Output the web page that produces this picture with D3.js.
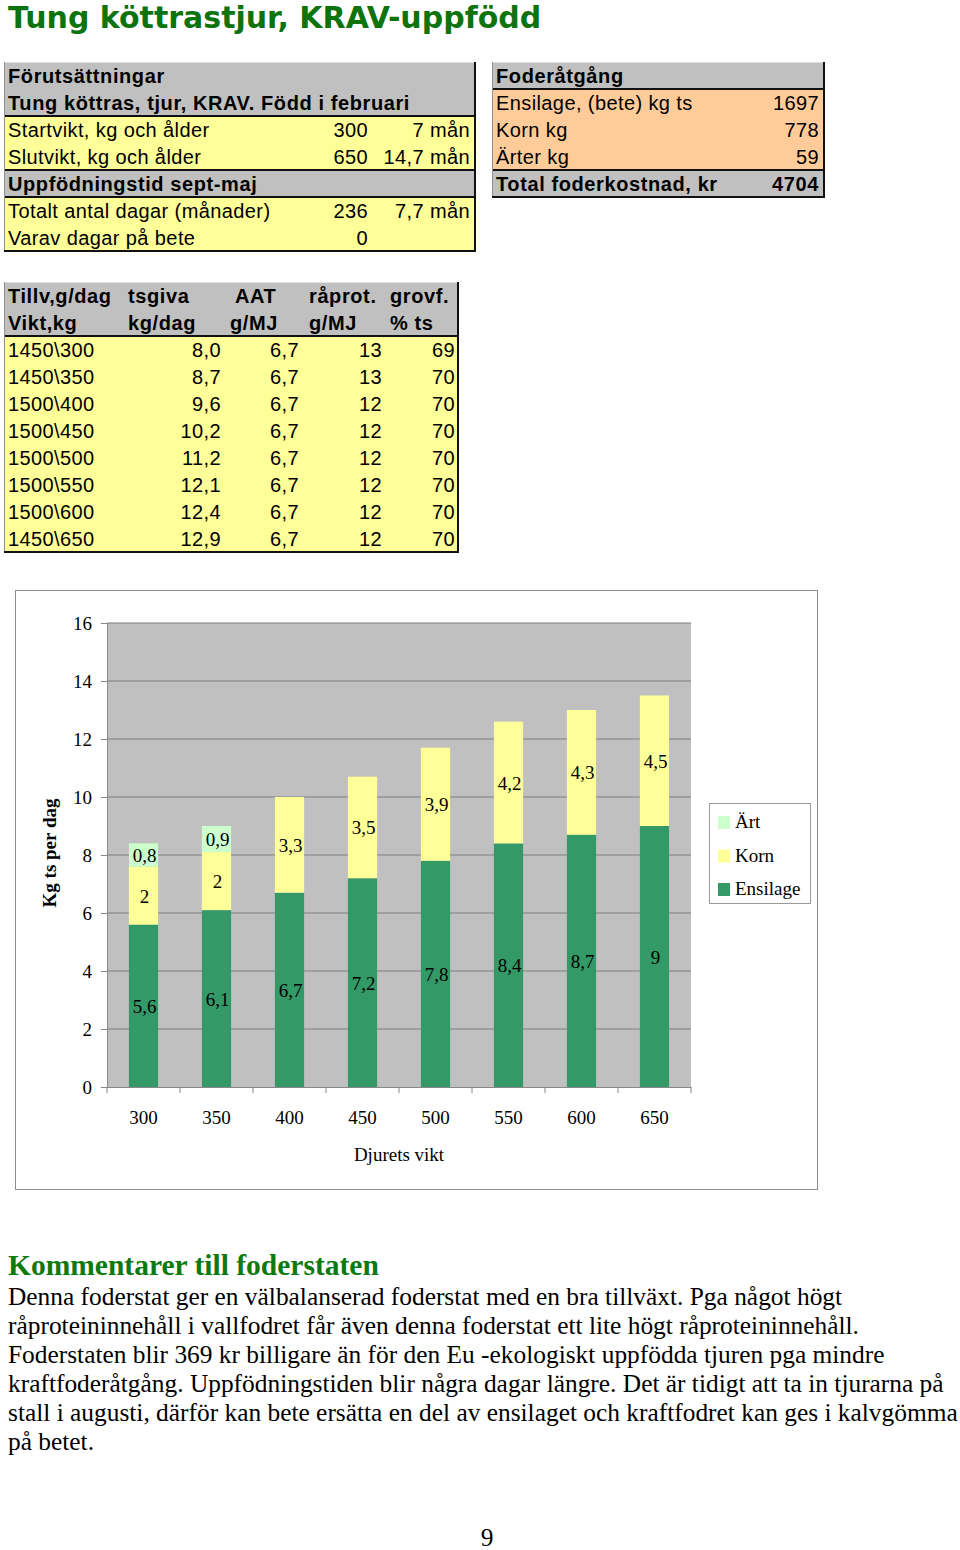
<!DOCTYPE html>
<html>
<head>
<meta charset="utf-8">
<script src="https://cdn.jsdelivr.net/npm/d3@7"></script>
<style>
  body { margin: 0; background: #fff; }
  svg { display: block; }
  .tbl { font-family: "Liberation Sans", Arial, sans-serif; font-size: 20px; fill: #000; letter-spacing: 0.4px; }
  .tbl .b { font-weight: bold; letter-spacing: 0.6px; }
  .chart text { font-family: "Liberation Serif", "Times New Roman", serif; font-size: 19px; fill: #000; }
  .body { font-family: "Liberation Serif", "Times New Roman", serif; font-size: 25.4px; fill: #000; }
</style>
</head>
<body>
<script>
// ---- data ----
var weights = ["300", "350", "400", "450", "500", "550", "600", "650"];
var ensilage = [5.6, 6.1, 6.7, 7.2, 7.8, 8.4, 8.7, 9];
var korn = [2, 2, 3.3, 3.5, 3.9, 4.2, 4.3, 4.5];
var art = [0.8, 0.9, 0, 0, 0, 0, 0, 0];
var seriesNames = ["Ensilage", "Korn", "Ärt"];
var yTicks = [0, 2, 4, 6, 8, 10, 12, 14, 16];

var forutRows = [
  ["Förutsättningar", "", ""],
  ["Tung köttras, tjur, KRAV. Född i februari", "", ""],
  ["Startvikt, kg och ålder", "300", "7 mån"],
  ["Slutvikt, kg och ålder", "650", "14,7 mån"],
  ["Uppfödningstid sept-maj", "", ""],
  ["Totalt antal dagar (månader)", "236", "7,7 mån"],
  ["Varav dagar på bete", "0", ""]
];
var foderRows = [
  ["Foderåtgång", ""],
  ["Ensilage, (bete) kg ts", "1697"],
  ["Korn kg", "778"],
  ["Ärter kg", "59"],
  ["Total foderkostnad, kr", "4704"]
];
var staterHead = [
  ["Tillv,g/dag", "tsgiva", "AAT", "råprot.", "grovf."],
  ["Vikt,kg", "kg/dag", "g/MJ", "g/MJ", "% ts"]
];
var staterRows = [
  ["1450\\300", "8,0", "6,7", "13", "69"],
  ["1450\\350", "8,7", "6,7", "13", "70"],
  ["1500\\400", "9,6", "6,7", "12", "70"],
  ["1500\\450", "10,2", "6,7", "12", "70"],
  ["1500\\500", "11,2", "6,7", "12", "70"],
  ["1500\\550", "12,1", "6,7", "12", "70"],
  ["1500\\600", "12,4", "6,7", "12", "70"],
  ["1450\\650", "12,9", "6,7", "12", "70"]
];
var commentLines = [
  "Denna foderstat ger en välbalanserad foderstat med en bra tillväxt. Pga något högt",
  "råproteininnehåll i vallfodret får även denna foderstat ett lite högt råproteininnehåll.",
  "Foderstaten blir 369 kr billigare än för den Eu -ekologiskt uppfödda tjuren pga mindre",
  "kraftfoderåtgång. Uppfödningstiden blir några dagar längre. Det är tidigt att ta in tjurarna på",
  "stall i augusti, därför kan bete ersätta en del av ensilaget och kraftfodret kan ges i kalvgömma",
  "på betet."
];

var colors = { "Ensilage": "#339966", "Korn": "#ffff99", "Ärt": "#ccffcc" };
var GRAY = "#c0c0c0", YELLOW = "#ffff99", ORANGE = "#ffcc99";

var svg = d3.select("body").append("svg")
  .attr("width", 960).attr("height", 1550);

// ---- title ----
svg.append("text")
  .attr("x", 8).attr("y", 28)
  .style("font-family", "'DejaVu Sans', Verdana, sans-serif")
  .style("font-weight", "bold").style("font-size", "30px")
  .style("fill", "#0d730d")
  .text("Tung köttrastjur, KRAV-uppfödd");

// ---- tables ----
var ROW = 27;

function drawTable(x, y, w, fills, lines) {
  var g = svg.append("g").attr("class", "tbl").attr("transform", "translate(" + x + "," + y + ")");
  g.selectAll("rect.row").data(fills).enter().append("rect")
    .attr("class", "row")
    .attr("x", 0).attr("y", function (d, i) { return i * ROW; })
    .attr("width", w).attr("height", ROW)
    .attr("fill", function (d) { return d; });
  // separator lines
  lines.forEach(function (r) {
    g.append("line").attr("x1", 0).attr("x2", w)
      .attr("y1", r * ROW).attr("y2", r * ROW)
      .attr("stroke", "#111").attr("stroke-width", 2);
  });
  // frame: light top/left, dark right/bottom
  var h = fills.length * ROW;
  g.append("line").attr("x1", 0).attr("x2", w).attr("y1", 0.5).attr("y2", 0.5).attr("stroke", "#e0e0e0");
  g.append("line").attr("x1", 0.5).attr("x2", 0.5).attr("y1", 0).attr("y2", h).attr("stroke", "#909090");
  g.append("line").attr("x1", w).attr("x2", w).attr("y1", 0).attr("y2", h + 1).attr("stroke", "#111").attr("stroke-width", 2);
  g.append("line").attr("x1", 0).attr("x2", w + 1).attr("y1", h).attr("y2", h).attr("stroke", "#111").attr("stroke-width", 2);
  return g;
}

function cell(g, row, x, txt, anchor, bold) {
  g.append("text")
    .attr("class", bold ? "b" : null)
    .attr("x", x).attr("y", row * ROW + 21)
    .attr("text-anchor", anchor || "start")
    .text(txt);
}

// Förutsättningar
var t1 = drawTable(4, 62, 471,
  [GRAY, GRAY, YELLOW, YELLOW, GRAY, YELLOW, YELLOW], [2, 4, 5]);
forutRows.forEach(function (r, i) {
  var bold = (i === 0 || i === 1 || i === 4);
  cell(t1, i, 4, r[0], "start", bold);
  if (r[1]) cell(t1, i, 364, r[1], "end");
  if (r[2]) cell(t1, i, 466, r[2], "end");
});

// Foderåtgång
var t2 = drawTable(492, 62, 332, [GRAY, ORANGE, ORANGE, ORANGE, GRAY], [1, 4]);
foderRows.forEach(function (r, i) {
  var bold = (i === 0 || i === 4);
  cell(t2, i, 4, r[0], "start", bold);
  if (r[1]) cell(t2, i, 327, r[1], "end", bold);
});

// Foderstat table
var fills3 = [GRAY, GRAY].concat(staterRows.map(function () { return YELLOW; }));
var t3 = drawTable(4, 282, 454, fills3, [2]);
var headX = [4, 124, 226, 305, 386];
staterHead.forEach(function (r, i) {
  r.forEach(function (txt, j) {
    var xx = (i === 0 && j === 2) ? 231 : headX[j];
    cell(t3, i, xx, txt, "start", true);
  });
});
var dataX = [4, 217, 295, 378, 451];
staterRows.forEach(function (r, i) {
  r.forEach(function (txt, j) {
    cell(t3, i + 2, dataX[j], txt, j === 0 ? "start" : "end");
  });
});

// ---- chart ----
var chart = svg.append("g").attr("class", "chart");
chart.append("rect")
  .attr("x", 15.5).attr("y", 590.5).attr("width", 802).attr("height", 599)
  .attr("fill", "#fff").attr("stroke", "#8c8c8c");

var plot = { left: 107, right: 691, top: 623, bottom: 1087 };

var x = d3.scaleBand().domain(weights)
  .range([plot.left, plot.right]).paddingInner(0.6).paddingOuter(0.3);
var y = d3.scaleLinear().domain([0, 16]).range([plot.bottom, plot.top]);

chart.append("rect")
  .attr("x", plot.left).attr("y", plot.top)
  .attr("width", plot.right - plot.left).attr("height", plot.bottom - plot.top)
  .attr("fill", "#c0c0c0");

// gridlines
chart.append("g").selectAll("line").data(yTicks.slice(1)).enter().append("line")
  .attr("x1", plot.left).attr("x2", plot.right)
  .attr("y1", function (d) { return y(d); }).attr("y2", function (d) { return y(d); })
  .attr("stroke", "#7f7f7f").attr("stroke-width", 1);

var tableData = weights.map(function (w, i) {
  return { w: w, "Ensilage": ensilage[i], "Korn": korn[i], "Ärt": art[i] };
});
var stacked = d3.stack().keys(seriesNames)(tableData);

var layers = chart.append("g").selectAll("g").data(stacked).enter().append("g")
  .attr("fill", function (d) { return colors[d.key]; });
layers.selectAll("rect").data(function (d) { return d; }).enter().append("rect")
  .attr("x", function (d) { return x(d.data.w); })
  .attr("width", x.bandwidth())
  .attr("y", function (d) { return y(d[1]); })
  .attr("height", function (d) { return y(d[0]) - y(d[1]); });

// value labels
var labelG = chart.append("g");
stacked.forEach(function (layer) {
  labelG.selectAll(null).data(layer.filter(function (d) { return d[1] - d[0] > 0; }))
    .enter().append("text")
    .attr("x", function (d) { return x(d.data.w) + x.bandwidth() / 2 + 1; })
    .attr("y", function (d) { return y((d[0] + d[1]) / 2) + 7; })
    .attr("text-anchor", "middle")
    .text(function (d) { return String(d.data[layer.key]).replace(".", ","); });
});

// y axis
var yAxis = chart.append("g")
  .attr("transform", "translate(" + plot.left + ",0)")
  .call(d3.axisLeft(y).tickValues(yTicks).tickSize(6).tickPadding(9).tickFormat(d3.format("d")));
yAxis.select(".domain").attr("stroke", "#888");
yAxis.selectAll(".tick line").attr("stroke", "#888");
yAxis.selectAll("text").style("font-size", "19px").attr("dy", "0.35em");

// x axis
var xAxis = chart.append("g")
  .attr("transform", "translate(0," + plot.bottom + ")")
  .call(d3.axisBottom(x).tickSize(0).tickPadding(24));
xAxis.select(".domain").attr("stroke", "#888");
xAxis.selectAll("text").style("font-size", "19px");
var bounds = weights.map(function (w) { return x(w) - x.step() * x.paddingInner() / 2; })
  .concat([plot.right]);
bounds[0] = plot.left;
xAxis.selectAll("line.bound").data(bounds).enter().append("line")
  .attr("class", "bound")
  .attr("x1", function (d) { return d; }).attr("x2", function (d) { return d; })
  .attr("y1", 0).attr("y2", 6).attr("stroke", "#888");

chart.append("text")
  .attr("x", (plot.left + plot.right) / 2).attr("y", 1161)
  .attr("text-anchor", "middle")
  .text("Djurets vikt");

chart.append("text")
  .attr("transform", "translate(56,853) rotate(-90)")
  .attr("text-anchor", "middle")
  .style("font-weight", "bold")
  .text("Kg ts per dag");

// legend
var legend = chart.append("g").attr("transform", "translate(709,803)");
legend.append("rect").attr("x", 0.5).attr("y", 0.5).attr("width", 101).attr("height", 100)
  .attr("fill", "#fff").attr("stroke", "#9a9a9a");
var legendOrder = seriesNames.slice().reverse();
legend.selectAll("g.item").data(legendOrder).enter().append("g")
  .attr("class", "item")
  .attr("transform", function (d, i) { return "translate(9," + (13 + i * 33.5) + ")"; })
  .each(function (d) {
    var it = d3.select(this);
    it.append("rect").attr("width", 12).attr("height", 13).attr("fill", colors[d]);
    it.append("text").attr("x", 17).attr("y", 12).text(d);
  });

// ---- comments ----
svg.append("text")
  .attr("x", 8).attr("y", 1275)
  .style("font-family", "'Liberation Serif', 'Times New Roman', serif")
  .style("font-weight", "bold").style("font-size", "29.5px")
  .style("fill", "#0d7a0d")
  .text("Kommentarer till foderstaten");

svg.append("g").selectAll("text").data(commentLines).enter().append("text")
  .attr("class", "body")
  .attr("x", 8)
  .attr("y", function (d, i) { return 1305 + i * 29; })
  .text(function (d) { return d; });

svg.append("text").attr("class", "body")
  .attr("x", 487).attr("y", 1546).attr("text-anchor", "middle")
  .text("9");
</script>
</body>
</html>
